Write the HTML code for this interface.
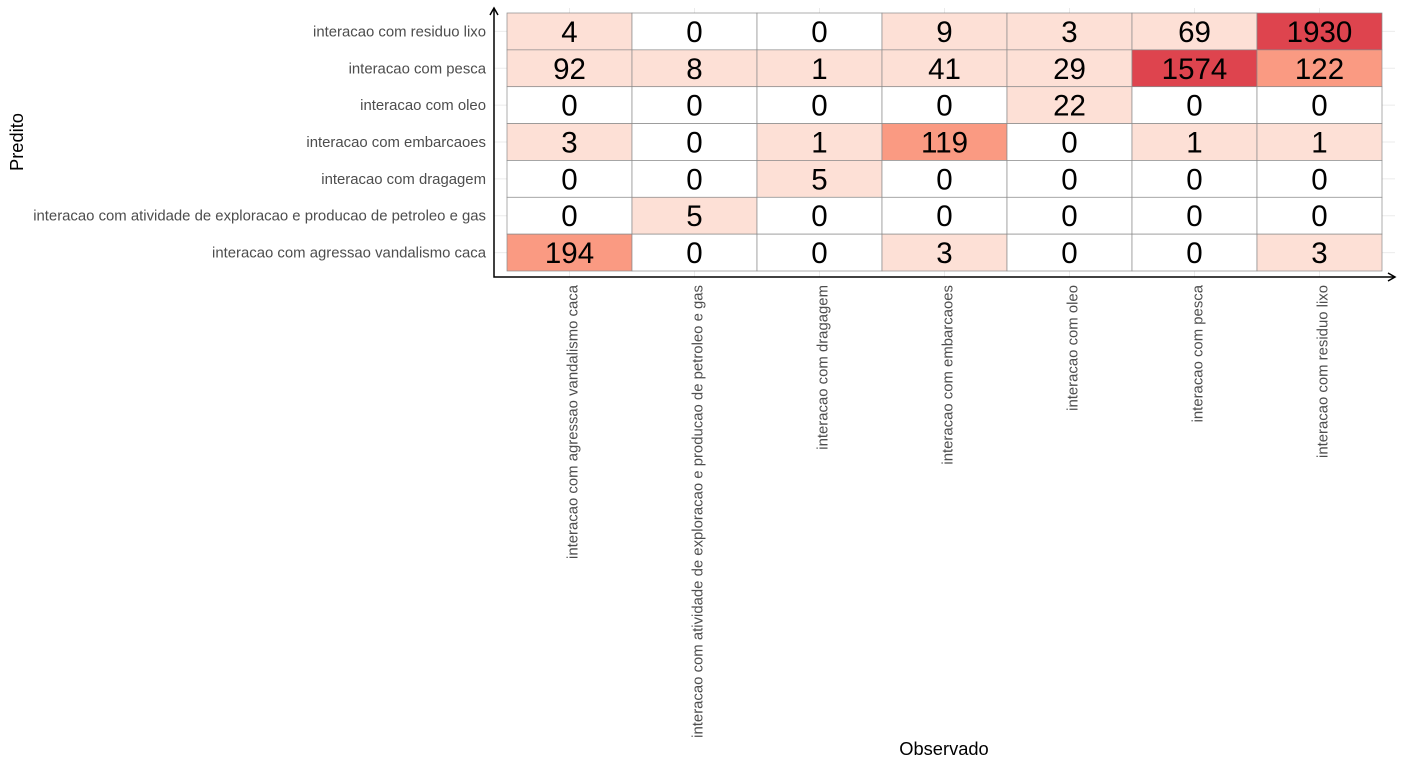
<!DOCTYPE html>
<html><head><meta charset="utf-8"><style>
html,body{margin:0;padding:0;background:#fff;}
svg{display:block;font-family:"Liberation Sans",Arial,sans-serif;}
</style></head><body>
<svg id="chart" width="1404" height="769" xmlns="http://www.w3.org/2000/svg"></svg>
<script>
const rowLabels = ["interacao com residuo lixo","interacao com pesca","interacao com oleo","interacao com embarcaoes","interacao com dragagem","interacao com atividade de exploracao e producao de petroleo e gas","interacao com agressao vandalismo caca"];
const colLabels = ["interacao com agressao vandalismo caca","interacao com atividade de exploracao e producao de petroleo e gas","interacao com dragagem","interacao com embarcaoes","interacao com oleo","interacao com pesca","interacao com residuo lixo"];
const counts = [
 [4,0,0,9,3,69,1930],
 [92,8,1,41,29,1574,122],
 [0,0,0,0,22,0,0],
 [3,0,1,119,0,1,1],
 [0,0,5,0,0,0,0],
 [0,5,0,0,0,0,0],
 [194,0,0,3,0,0,3]
];
const NS="http://www.w3.org/2000/svg";
const svg=document.getElementById('chart');
const x0=507,x1=1382,y0=13,y1=271;
const cw=(x1-x0)/colLabels.length, rh=(y1-y0)/rowLabels.length;
const xPos=i=>x0+i*cw, yPos=j=>y0+j*rh;
function fill(v){if(v<=0)return"#ffffff";if(v<100)return"#fde0d6";if(v<1000)return"#fa9a82";return"#de444e";}
function mk(t,a){const e=document.createElementNS(NS,t);for(const k in a)e.setAttribute(k,a[k]);svg.appendChild(e);return e;}
for(let j=0;j<rowLabels.length;j++){const g=mk('line',{x1:494,x2:1395,y1:yPos(j)+rh/2,y2:yPos(j)+rh/2,stroke:"#ebebeb","stroke-width":1});

}
for(let i=0;i<colLabels.length;i++){const g=mk('line',{x1:xPos(i)+cw/2,x2:xPos(i)+cw/2,y1:8,y2:277,stroke:"#ebebeb","stroke-width":1});

}
for(let j=0;j<rowLabels.length;j++)for(let i=0;i<colLabels.length;i++){
 const v=counts[j][i];
 const r=mk('rect',{x:xPos(i),y:yPos(j),width:cw,height:rh,fill:fill(v),stroke:"#8a8a8a","stroke-width":0.7});
 
 
 const t=mk('text',{x:xPos(i)+cw/2,y:yPos(j)+rh/2+10.5,"text-anchor":"middle","font-size":29.5,fill:"#000"});
 t.textContent=v;
 
 
}
const ax=mk('path',{d:"M494,8 L494,277 L1395,277",fill:"none",stroke:"#000","stroke-width":1.5});


const a1=mk('path',{d:"M490,15 L494,8 L498,15 M1388,273 L1395,277 L1388,281",fill:"none",stroke:"#000","stroke-width":1.5});


for(let j=0;j<rowLabels.length;j++){
 const t=mk('text',{x:486,y:yPos(j)+rh/2+5,"text-anchor":"end","font-size":14.9,fill:"#4d4d4d"});
 t.textContent=rowLabels[j];
 
 
}
for(let i=0;i<colLabels.length;i++){
 const cx=xPos(i)+cw/2+8;
 const t=mk('text',{x:cx,y:285,"text-anchor":"end","font-size":14.9,fill:"#4d4d4d",transform:`rotate(-90 ${cx} 285)`});
 t.textContent=colLabels[i];
 
 
}
const yt=mk('text',{x:23,y:142,"text-anchor":"middle","font-size":18.3,fill:"#000",transform:"rotate(-90 23 142)"});
yt.textContent="Predito";


const xt=mk('text',{x:944,y:755,"text-anchor":"middle","font-size":18.3,fill:"#000"});
xt.textContent="Observado";


</script>
</body></html>
